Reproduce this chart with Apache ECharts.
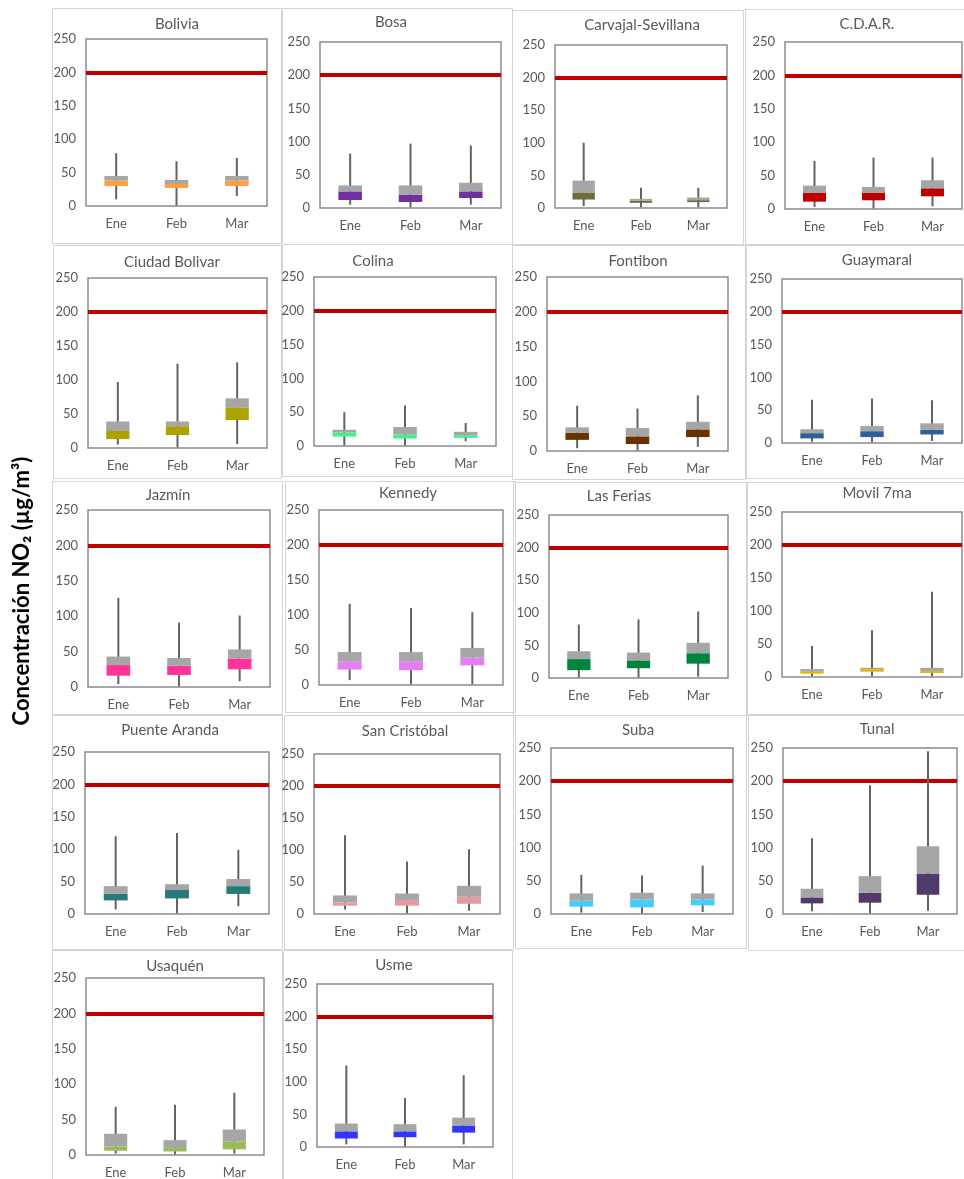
<!DOCTYPE html>
<html>
<head>
<meta charset="utf-8">
<script src="https://cdn.jsdelivr.net/npm/echarts@6/dist/echarts.min.js"></script>
<style>
html,body{margin:0;padding:0;background:#fff;}
#chart{width:964px;height:1179px;}
</style>
</head>
<body>
<div id="chart"></div>
<script>
// ---------- DATA ----------
const stations = ['Bolivia','Bosa','Carvajal-Sevillana','C.D.A.R.','Ciudad Bolivar','Colina','Fontibon','Guaymaral','Jazmín','Kennedy','Las Ferias','Movil 7ma','Puente Aranda','San Cristóbal','Suba','Tunal','Usaquén','Usme'];
const months = ['Ene','Feb','Mar'];
const yTicks = [0,50,100,150,200,250];
const limitValue = 200;
const yAxisTitle = 'Concentración NO₂ (µg/m³)';

const minimum = [
  [10,1,15],[5,1,5],[3,1,1],[3,1,4],[5,1,6],[1,1,7],[4,1,6],[2,1,3],[4,1,8],
  [7,1,1],[1,1,2],[1,1,1],[7,1,12],[7,1,5],[2,1,3],[4,1,5],[2,1,2],[4,1,4]
];
const q1 = [
  [30,27,30],[12,9,15],[13,8,9],[11,13,19],[13,19,41],[14,11,12],[16,10,20],[7,9,13],[16,17,25],
  [22,21,28],[12,15,22],[5,8,6],[21,24,31],[13,13,16],[11,10,13],[16,17,29],[6,5,8],[13,15,22]
];
const median = [
  [38,33,38],[25,20,25],[23,11,12],[24,24,31],[25,32,59],[20,17,16],[26,21,31],[15,18,20],[31,30,40],
  [34,34,39],[29,27,38],[8,12,9],[31,37,43],[18,22,27],[20,22,22],[25,32,61],[12,10,19],[24,24,33]
];
const q3 = [
  [45,39,45],[34,34,38],[42,14,16],[35,33,43],[39,39,73],[24,28,21],[34,33,42],[21,26,30],[43,41,53],
  [47,47,53],[41,39,54],[12,14,14],[43,46,54],[29,32,44],[31,32,31],[38,57,102],[30,21,36],[36,35,45]
];
const maximum = [
  [79,67,72],[82,97,94],[100,31,31],[72,77,77],[97,124,126],[50,60,34],[65,61,80],[66,68,65],[126,91,101],
  [116,110,104],[82,90,102],[47,71,129],[120,125,99],[123,82,101],[59,58,73],[114,194,245],[68,71,88],[125,75,110]
];

// ---------- STYLE / LAYOUT ----------
const colors = ['#ff9f3f','#7030a0','#716a3c','#c00000','#ada200','#3ff08c','#663300','#2f5f98','#ff3399',
  '#e37ff2','#00843d','#e6b800','#287a78','#e49aa0','#44ccff','#513a6b','#9bbb59','#3333ff'];
// frame [x,y,w,h], plot [x1,y1,x2,y2], title [cx,cy]
const layout = [
  {f:[52,8,229,235],  p:[86,39,267,206],   t:[177,24]},
  {f:[282,8,230,236], p:[320,42,501,208],  t:[391,22]},
  {f:[512,10,231,234],p:[555,45,727,208],  t:[642,25]},
  {f:[745,9,219,236], p:[785,42,962,209],  t:[867,24]},
  {f:[53,245,228,233],p:[88,278,267,448],  t:[172,262]},
  {f:[282,244,230,232],p:[314,277,496,446],t:[373,261]},
  {f:[512,245,233,234],p:[547,277,728,451],t:[638,261]},
  {f:[746,244,218,234],p:[782,279,962,443],t:[877,260]},
  {f:[52,481,230,233],p:[88,510,270,687],  t:[168,495]},
  {f:[285,481,230,231],p:[319,510,503,685],t:[408,493]},
  {f:[513,482,233,233],p:[549,515,728,678],t:[619,496]},
  {f:[747,482,217,233],p:[782,512,962,677],t:[877,493]},
  {f:[52,715,230,234],p:[85,752,269,914],  t:[170,730]},
  {f:[284,715,229,234],p:[314,754,500,914],t:[405,731]},
  {f:[515,715,231,233],p:[551,748,733,914],t:[638,730]},
  {f:[748,714,216,236],p:[783,748,957,914],t:[877,729]},
  {f:[52,950,230,240],p:[86,978,264,1156], t:[175,966]},
  {f:[283,950,229,240],p:[317,984,493,1147],t:[394,965]}
];
const FONT = 'Lato, "Open Sans", "Noto Sans", sans-serif';
const txtColor = '#595959';

const grids = [], xAxes = [], yAxes = [], series = [], graphics = [];
stations.forEach(function(name, i){
  const L = layout[i];
  grids.push({left:L.p[0], top:L.p[1], width:L.p[2]-L.p[0], height:L.p[3]-L.p[1],
    show:true, borderColor:'#8c8c8c', borderWidth:1.5, backgroundColor:'transparent'});
  xAxes.push({type:'category', gridIndex:i, data:months, boundaryGap:true,
    axisLine:{show:false}, axisTick:{show:false}, splitLine:{show:false},
    axisLabel:{color:txtColor, fontSize:13, fontFamily:FONT, margin:11}});
  yAxes.push({type:'value', gridIndex:i, min:yTicks[0], max:yTicks[yTicks.length-1], interval:yTicks[1]-yTicks[0],
    axisLine:{show:false}, axisTick:{show:false}, splitLine:{show:false},
    axisLabel:{color:txtColor, fontSize:13, fontFamily:FONT, margin:10}});
  const data = months.map(function(m, j){
    return [j, minimum[i][j], q1[i][j], median[i][j], q3[i][j], maximum[i][j]];
  });
  const col = colors[i];
  series.push({
    type:'custom', xAxisIndex:i, yAxisIndex:i, data:data,
    encode:{x:0, y:[1,2,3,4,5]},
    renderItem:function(params, api){
      const x = api.value(0);
      const pMin = api.coord([x, api.value(1)]);
      const pQ1 = api.coord([x, api.value(2)]);
      const pMed = api.coord([x, api.value(3)]);
      const pQ3 = api.coord([x, api.value(4)]);
      const pMax = api.coord([x, api.value(5)]);
      const w = api.size([1,0])[0]*0.39;
      const cx = pMin[0];
      return {type:'group', children:[
        {type:'line', shape:{x1:cx, y1:pMin[1], x2:cx, y2:pMax[1]}, style:{stroke:'#636363', lineWidth:2}},
        {type:'rect', shape:{x:cx-w/2, y:pMed[1], width:w, height:pQ1[1]-pMed[1]}, style:{fill:col}},
        {type:'rect', shape:{x:cx-w/2, y:pQ3[1], width:w, height:pMed[1]-pQ3[1]}, style:{fill:'#a6a6a6'}}
      ]};
    },
    markLine:{silent:true, symbol:'none', z:1,
      lineStyle:{color:'#c00000', width:4, type:'solid'},
      label:{show:false}, data:[{yAxis:limitValue}]}
  });
  graphics.push({type:'rect', silent:true, shape:{x:L.f[0]+0.5, y:L.f[1]+0.5, width:L.f[2], height:L.f[3]},
    style:{fill:null, stroke:'#d4d4d4', lineWidth:1}});
  graphics.push({type:'text', silent:true, x:L.t[0], y:L.t[1],
    style:{text:name, fill:txtColor, font:'15px ' + FONT, textAlign:'center', textVerticalAlign:'middle'}});
});
graphics.push({type:'text', silent:true, x:22, y:591, rotation:Math.PI/2,
  style:{text:yAxisTitle, fill:'#000', font:'bold 22px ' + FONT, textAlign:'center', textVerticalAlign:'middle'}});

const chart = echarts.init(document.getElementById('chart'), null, {renderer:'canvas'});
chart.setOption({
  animation:false,
  backgroundColor:'#fff',
  grid:grids, xAxis:xAxes, yAxis:yAxes, series:series, graphic:graphics
});
</script>
</body>
</html>
